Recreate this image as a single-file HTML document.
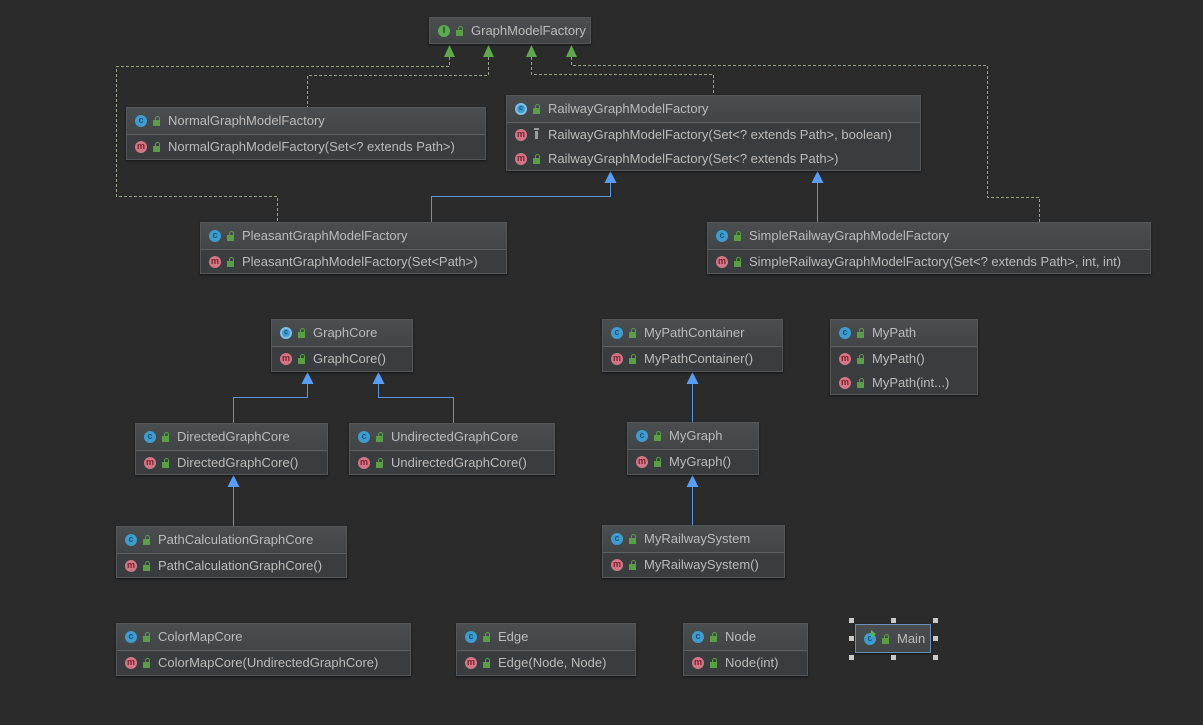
<!DOCTYPE html>
<html><head><meta charset="utf-8">
<style>
html,body{margin:0;padding:0;background:#2b2b2b;}
body{width:1203px;height:725px;position:relative;overflow:hidden;font-family:"Liberation Sans",Arial,sans-serif;color:#bbbbbb;}
svg.lines{position:absolute;left:0;top:0;}
.box{position:absolute;background:#3a3d3f;border:1px solid #54575a;box-sizing:border-box;box-shadow:0 1px 2px rgba(0,0,0,.55);}
.hd{position:relative;height:27px;box-sizing:border-box;background:linear-gradient(#4b4e50,#424547);border-bottom:1px solid #5e6163;}
.row{position:relative;height:24px;}
.row.r2{height:23px;}
.ic{position:absolute;left:8px;top:50%;margin-top:-6px;width:12px;height:12px;border-radius:50%;box-sizing:border-box;font-size:9px;line-height:11px;text-align:center;font-weight:bold;}
.ic.c{background:#3f9ccf;color:#1a557a;}
.ic.c::after{content:"c";}
.ic.a{background:#3f9ccf;border:2px solid #7fc0e6;color:#1a557a;font-size:7px;line-height:8px;}
.ic.a::after{content:"c";}
.ic.m{background:#d27686;color:#7c1e2e;}
.ic.m::after{content:"m";}
.ic.i{background:#5ea955;color:#1f4d1a;}
.ic.i::after{content:"I";}
.lk{position:absolute;left:26px;top:50%;margin-top:-1px;width:7px;height:6px;background:#5a9e46;}
.lk::before{content:"";position:absolute;left:2px;top:-4px;width:5px;height:5px;box-sizing:border-box;border:1.5px solid #5a9e46;border-bottom:none;border-radius:3px 3px 0 0;}
.pk{position:absolute;left:28px;top:50%;margin-top:-4px;width:3px;height:8px;background:#9a9c9e;}
.pk::before{content:"";position:absolute;left:-1px;top:-3px;width:5px;height:2px;background:#9a9c9e;}
.t{position:absolute;left:41px;top:50%;margin-top:-8px;line-height:16px;font-size:13px;white-space:nowrap;}
.hnd{position:absolute;width:5px;height:5px;background:#c9c9c9;}
</style></head><body>

<svg class="lines" width="1203" height="725">
 <g fill="none" stroke="#93a383" stroke-width="1" stroke-dasharray="3,2">
  <path d="M449.5 57 V66.5 H116.5 V196.5 H277.5 V222"/>
  <path d="M488.5 57 V75.5 H307.5 V107"/>
  <path d="M531.5 57 V74.5 H713.5 V95"/>
  <path d="M571.5 57 V65.5 H987.5 V197.5 H1039.5 V222"/>
 </g>
 <g fill="#5fa84e">
  <polygon points="449.5,45 444,57 455,57"/>
  <polygon points="488.5,45 483,57 494,57"/>
  <polygon points="531.5,45 526,57 537,57"/>
  <polygon points="571.5,45 566,57 577,57"/>
 </g>
 <g fill="none" stroke="#5894e0" stroke-width="1">
  <path d="M431.5 222 V196.5 H610.5 V183"/>
  <path d="M817.5 222 V183"/>
  <path d="M233.5 423 V397.5 H307.5 V384"/>
  <path d="M453.5 423 V397.5 H378.5 V384"/>
  <path d="M233.5 526 V487"/>
  <path d="M692.5 422 V384"/>
  <path d="M692.5 525 V487"/>
 </g>
 <g fill="#589df6">
  <polygon points="610.5,171 604.5,183 616.5,183"/>
  <polygon points="817.5,171 811.5,183 823.5,183"/>
  <polygon points="307.5,372 301.5,384 313.5,384"/>
  <polygon points="378.5,372 372.5,384 384.5,384"/>
  <polygon points="233.5,475 227.5,487 239.5,487"/>
  <polygon points="692.5,372 686.5,384 698.5,384"/>
  <polygon points="692.5,475 686.5,487 698.5,487"/>
 </g>
</svg>

<!-- GraphModelFactory -->
<div class="box" style="left:429px;top:17px;width:162px;height:27px">
 <div class="hd" style="height:25px;border-bottom:none"><span class="ic i"></span><span class="lk"></span><span class="t">GraphModelFactory</span></div>
</div>

<!-- Normal -->
<div class="box" style="left:126px;top:107px;width:360px;height:53px">
 <div class="hd"><span class="ic c"></span><span class="lk"></span><span class="t">NormalGraphModelFactory</span></div>
 <div class="row"><span class="ic m"></span><span class="lk"></span><span class="t">NormalGraphModelFactory(Set&lt;? extends Path&gt;)</span></div>
</div>

<!-- Railway -->
<div class="box" style="left:506px;top:95px;width:415px;height:76px">
 <div class="hd"><span class="ic a"></span><span class="lk"></span><span class="t">RailwayGraphModelFactory</span></div>
 <div class="row"><span class="ic m"></span><span class="pk"></span><span class="t">RailwayGraphModelFactory(Set&lt;? extends Path&gt;, boolean)</span></div>
 <div class="row r2"><span class="ic m"></span><span class="lk"></span><span class="t">RailwayGraphModelFactory(Set&lt;? extends Path&gt;)</span></div>
</div>

<!-- Pleasant -->
<div class="box" style="left:200px;top:222px;width:307px;height:52px">
 <div class="hd"><span class="ic c"></span><span class="lk"></span><span class="t">PleasantGraphModelFactory</span></div>
 <div class="row r2"><span class="ic m"></span><span class="lk"></span><span class="t">PleasantGraphModelFactory(Set&lt;Path&gt;)</span></div>
</div>

<!-- SimpleRailway -->
<div class="box" style="left:707px;top:222px;width:444px;height:52px">
 <div class="hd"><span class="ic c"></span><span class="lk"></span><span class="t">SimpleRailwayGraphModelFactory</span></div>
 <div class="row r2"><span class="ic m"></span><span class="lk"></span><span class="t">SimpleRailwayGraphModelFactory(Set&lt;? extends Path&gt;, int, int)</span></div>
</div>

<!-- GraphCore -->
<div class="box" style="left:271px;top:319px;width:142px;height:53px">
 <div class="hd"><span class="ic a"></span><span class="lk"></span><span class="t">GraphCore</span></div>
 <div class="row"><span class="ic m"></span><span class="lk"></span><span class="t">GraphCore()</span></div>
</div>

<!-- Directed -->
<div class="box" style="left:135px;top:423px;width:193px;height:52px">
 <div class="hd"><span class="ic c"></span><span class="lk"></span><span class="t">DirectedGraphCore</span></div>
 <div class="row r2"><span class="ic m"></span><span class="lk"></span><span class="t">DirectedGraphCore()</span></div>
</div>

<!-- Undirected -->
<div class="box" style="left:349px;top:423px;width:206px;height:52px">
 <div class="hd"><span class="ic c"></span><span class="lk"></span><span class="t">UndirectedGraphCore</span></div>
 <div class="row r2"><span class="ic m"></span><span class="lk"></span><span class="t">UndirectedGraphCore()</span></div>
</div>

<!-- PathCalculation -->
<div class="box" style="left:116px;top:526px;width:231px;height:52px">
 <div class="hd"><span class="ic c"></span><span class="lk"></span><span class="t">PathCalculationGraphCore</span></div>
 <div class="row r2"><span class="ic m"></span><span class="lk"></span><span class="t">PathCalculationGraphCore()</span></div>
</div>

<!-- MyPathContainer -->
<div class="box" style="left:602px;top:319px;width:181px;height:53px">
 <div class="hd"><span class="ic c"></span><span class="lk"></span><span class="t">MyPathContainer</span></div>
 <div class="row"><span class="ic m"></span><span class="lk"></span><span class="t">MyPathContainer()</span></div>
</div>

<!-- MyPath -->
<div class="box" style="left:830px;top:319px;width:148px;height:76px">
 <div class="hd"><span class="ic c"></span><span class="lk"></span><span class="t">MyPath</span></div>
 <div class="row"><span class="ic m"></span><span class="lk"></span><span class="t">MyPath()</span></div>
 <div class="row r2"><span class="ic m"></span><span class="lk"></span><span class="t">MyPath(int...)</span></div>
</div>

<!-- MyGraph -->
<div class="box" style="left:627px;top:422px;width:132px;height:53px">
 <div class="hd"><span class="ic c"></span><span class="lk"></span><span class="t">MyGraph</span></div>
 <div class="row"><span class="ic m"></span><span class="lk"></span><span class="t">MyGraph()</span></div>
</div>

<!-- MyRailwaySystem -->
<div class="box" style="left:602px;top:525px;width:183px;height:53px">
 <div class="hd"><span class="ic c"></span><span class="lk"></span><span class="t">MyRailwaySystem</span></div>
 <div class="row"><span class="ic m"></span><span class="lk"></span><span class="t">MyRailwaySystem()</span></div>
</div>

<!-- ColorMapCore -->
<div class="box" style="left:116px;top:623px;width:295px;height:53px">
 <div class="hd"><span class="ic c"></span><span class="lk"></span><span class="t">ColorMapCore</span></div>
 <div class="row"><span class="ic m"></span><span class="lk"></span><span class="t">ColorMapCore(UndirectedGraphCore)</span></div>
</div>

<!-- Edge -->
<div class="box" style="left:456px;top:623px;width:180px;height:53px">
 <div class="hd"><span class="ic c"></span><span class="lk"></span><span class="t">Edge</span></div>
 <div class="row"><span class="ic m"></span><span class="lk"></span><span class="t">Edge(Node, Node)</span></div>
</div>

<!-- Node -->
<div class="box" style="left:683px;top:623px;width:125px;height:53px">
 <div class="hd"><span class="ic c"></span><span class="lk"></span><span class="t">Node</span></div>
 <div class="row"><span class="ic m"></span><span class="lk"></span><span class="t">Node(int)</span></div>
</div>

<!-- Main (selected) -->
<div class="box" style="left:855px;top:624px;width:76px;height:29px;border-color:#6a8fb8">
 <div class="hd" style="height:27px;border-bottom:none"><span class="ic c"></span><span style="position:absolute;left:15px;top:5px;width:0;height:0;border-left:5px solid #5fb34c;border-top:4px solid transparent;border-bottom:4px solid transparent"></span><span class="lk"></span><span class="t">Main</span></div>
</div>
<div class="hnd" style="left:849px;top:618px"></div>
<div class="hnd" style="left:891px;top:618px"></div>
<div class="hnd" style="left:933px;top:618px"></div>
<div class="hnd" style="left:849px;top:636px"></div>
<div class="hnd" style="left:933px;top:636px"></div>
<div class="hnd" style="left:849px;top:655px"></div>
<div class="hnd" style="left:891px;top:655px"></div>
<div class="hnd" style="left:933px;top:655px"></div>

</body></html>
